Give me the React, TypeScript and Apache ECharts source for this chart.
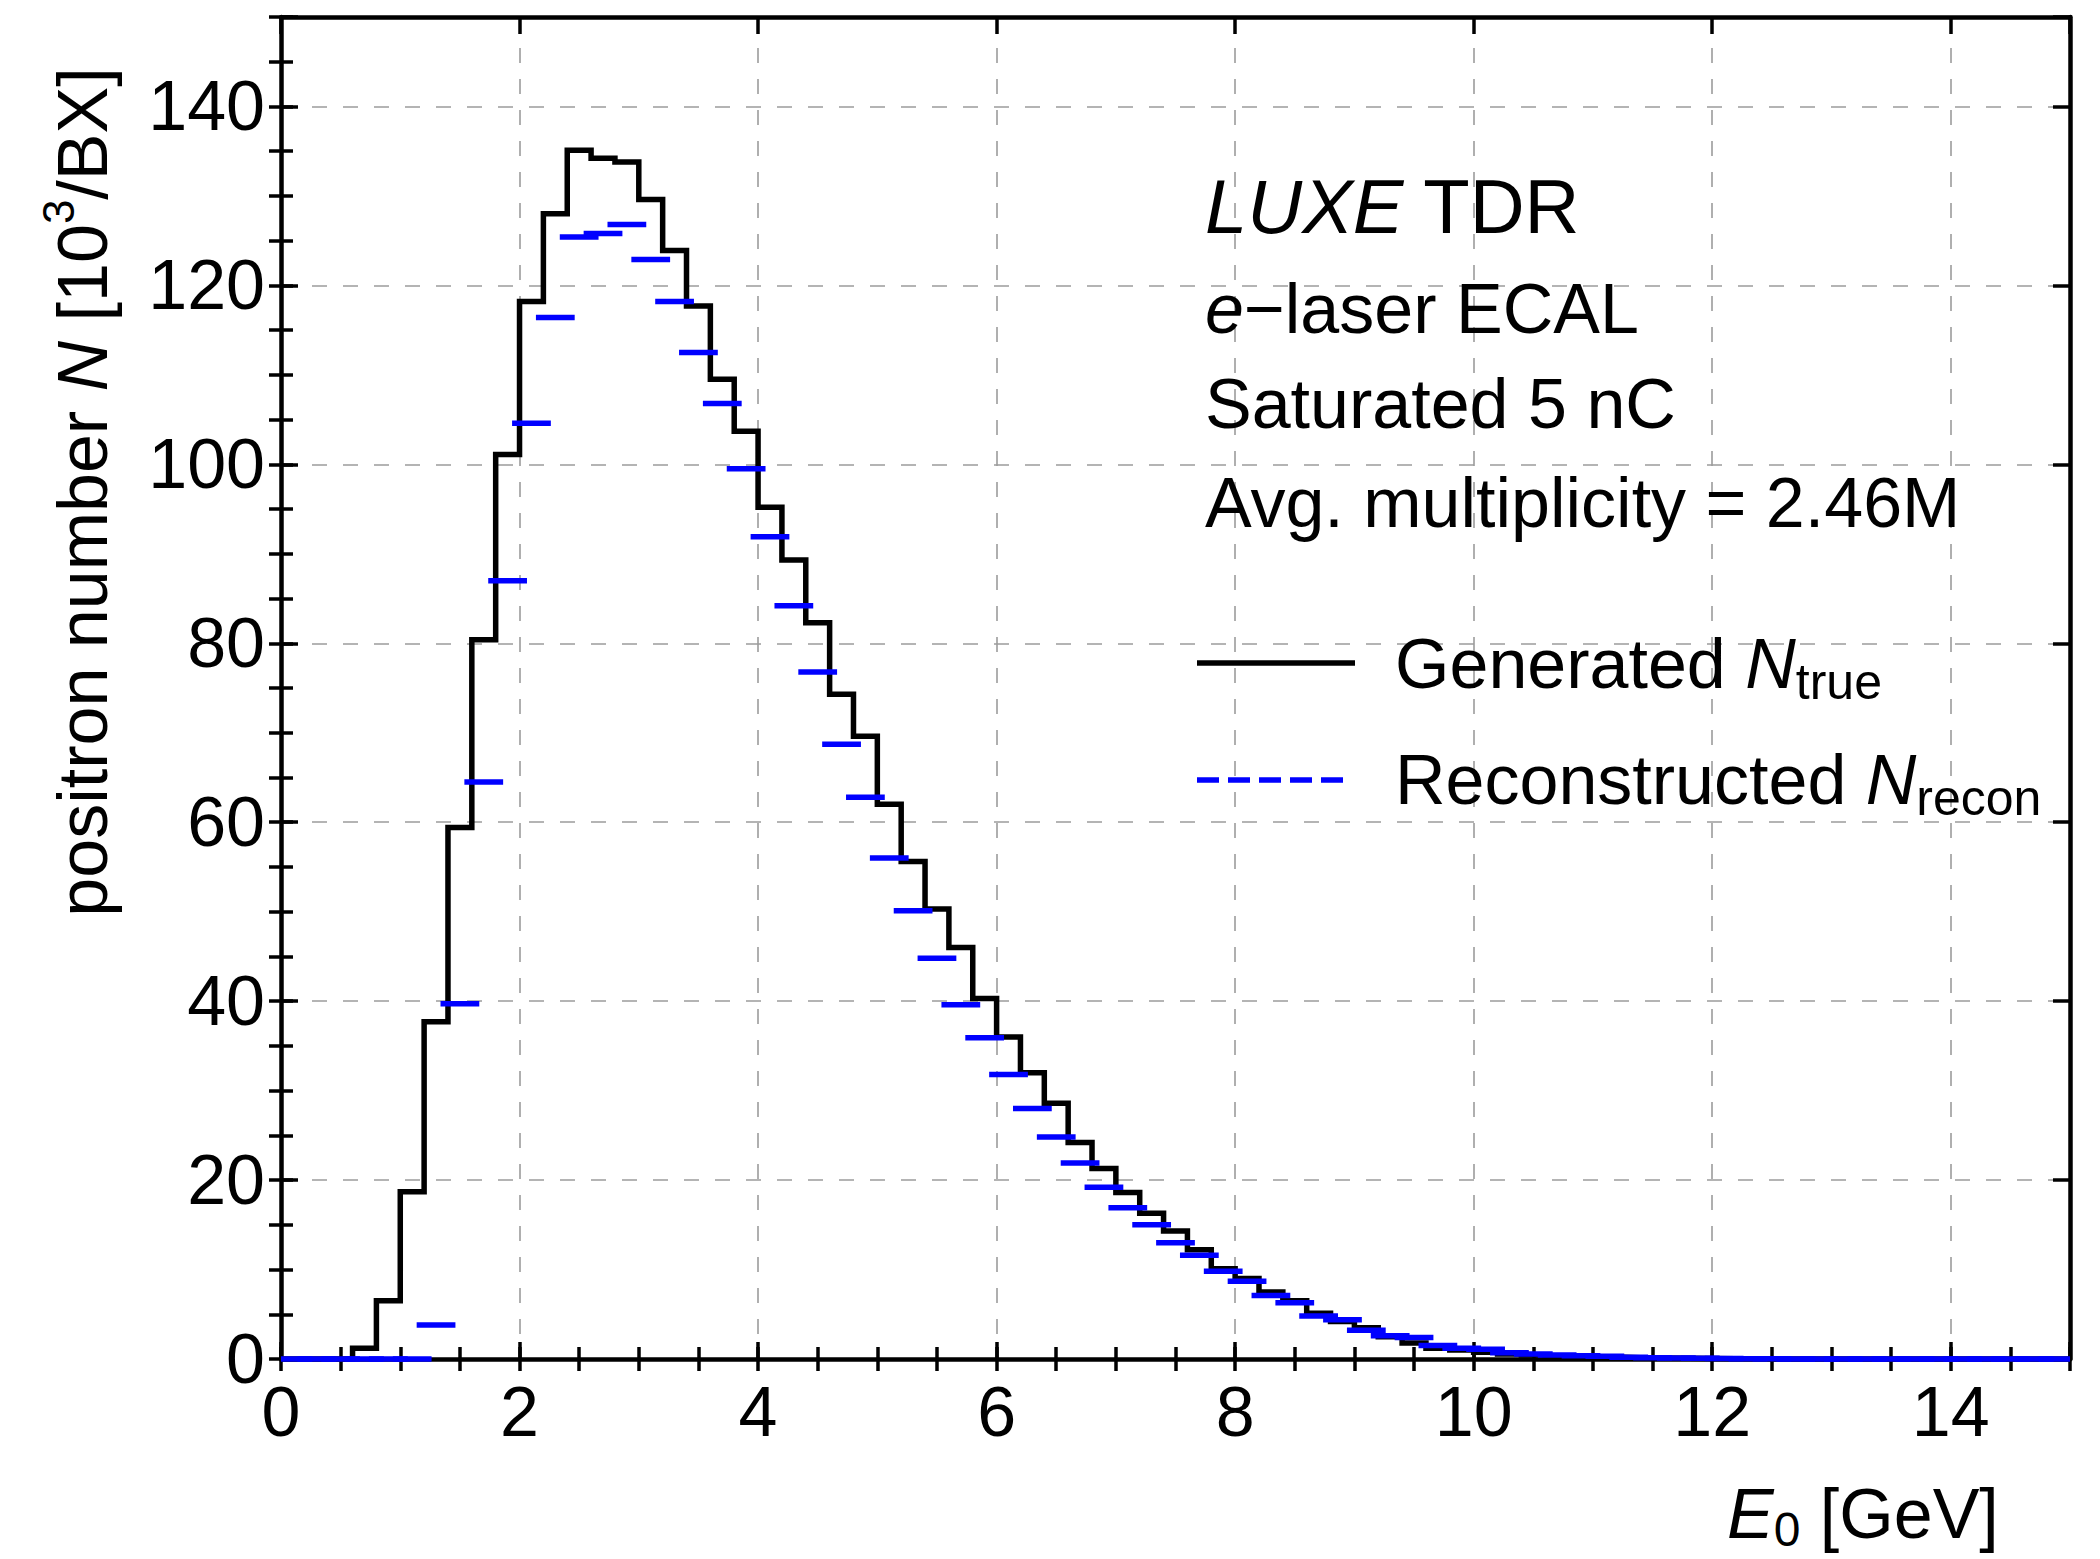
import React, { useEffect, useRef } from "react";
import * as echarts from "echarts";

// ---- data ----
const BIN_WIDTH = 0.2; // GeV
const X_MIN = 0;
const X_MAX = 15;
const Y_MIN = 0;
const Y_MAX = 150;
const X_MAJOR = 2;
const X_MINOR = 0.5;
const Y_MAJOR = 20;
const Y_MINOR = 5;

// Generated N_true per 0.2 GeV bin (10^3 / BX), bins start at 0 GeV
const generatedN = [
  0, 0, 0, 1.2, 6.5, 18.7, 37.7, 59.4, 80.4, 101.1,
  118.2, 128.0, 135.1, 134.2, 133.8, 129.6, 123.9, 117.7, 109.5, 103.7,
  95.2, 89.3, 82.3, 74.3, 69.6, 62.0, 55.6, 50.3, 46.0, 40.3,
  36.0, 32.0, 28.6, 24.2, 21.3, 18.6, 16.3, 14.3, 12.2, 10.1,
  9.0, 7.5, 6.5, 5.1, 4.2, 3.5, 2.5, 1.8, 1.2, 1.0,
  0.75, 0.55, 0.45, 0.37, 0.3, 0.22, 0.15, 0.1, 0.07, 0.05,
  0.03, 0.02, 0.01, 0, 0, 0, 0, 0, 0, 0,
  0, 0, 0, 0, 0,
];

// Reconstructed N_recon per 0.2 GeV bin (10^3 / BX)
const reconN = [
  0, 0, 0, 0, 0, 0, 3.8, 39.7, 64.5, 87.0,
  104.6, 116.4, 125.4, 125.8, 126.8, 122.9, 118.2, 112.5, 106.8, 99.5,
  91.9, 84.2, 76.8, 68.7, 62.8, 56.0, 50.1, 44.8, 39.6, 35.9,
  31.8, 28.0, 24.8, 21.9, 19.2, 16.9, 15.0, 13.0, 11.6, 9.8,
  8.7, 7.1, 6.3, 4.8, 4.4, 3.2, 2.6, 2.4, 1.5, 1.2,
  1.1, 0.7, 0.55, 0.45, 0.37, 0.3, 0.2, 0.15, 0.1, 0.08,
  0.05, 0.03, 0.02, 0.01, 0, 0, 0, 0, 0, 0,
  0, 0, 0, 0, 0,
];

const annotationLines = ["LUXE", " TDR", "e", "\u2212laser ECAL", "Saturated 5 nC", "Avg. multiplicity = 2.46M"];
const legendLabels = ["Generated ", "true", "Reconstructed ", "recon"];

const FONT = "'Liberation Sans', Arial, Helvetica, sans-serif";
const RECON_HALF = 0.1625; // half length of reconstructed dash (GeV)

function buildOption() {
  const stepPts: number[][] = [];
  generatedN.forEach((v, i) => {
    const x0 = +(i * BIN_WIDTH).toFixed(3);
    const x1 = +((i + 1) * BIN_WIDTH).toFixed(3);
    stepPts.push([x0, v]);
    stepPts.push([x1, v]);
  });
  const reconPts = reconN.map((v, i) => [+((i + 0.5) * BIN_WIDTH).toFixed(3), v]);

  const gridColor = "#9c9c9c";
  const tickStyle = { color: "#000", width: 3.5 };
  const frame = { show: true, onZero: false, lineStyle: { color: "#000", width: 4.5 } };

  const xBase = { type: "value", min: X_MIN, max: X_MAX, gridIndex: 0 };
  const yBase = { type: "value", min: Y_MIN, max: Y_MAX, gridIndex: 0 };

  const xAxis = [
    {
      ...xBase,
      position: "bottom",
      interval: X_MAJOR,
      axisLine: frame,
      axisTick: { show: true, inside: true, length: 17, lineStyle: tickStyle },
      axisLabel: {
        show: true,
        fontSize: 70,
        fontFamily: FONT,
        color: "#000",
        margin: 18,
        formatter: (v: number) => (v % X_MAJOR === 0 ? String(v) : ""),
      },
      splitLine: { show: true, lineStyle: { color: gridColor, width: 1.6, type: [15, 16] } },
    },
    {
      ...xBase,
      position: "bottom",
      interval: X_MINOR,
      axisLine: { show: false },
      axisTick: { show: true, inside: true, length: 12, lineStyle: tickStyle },
      axisLabel: { show: false },
      splitLine: { show: false },
    },
    {
      ...xBase,
      position: "top",
      interval: X_MAJOR,
      axisLine: frame,
      axisTick: { show: true, inside: true, length: 17, lineStyle: tickStyle },
      axisLabel: { show: false },
      splitLine: { show: false },
    },
    {
      ...xBase,
      position: "top",
      interval: X_MINOR,
      axisLine: { show: false },
      axisTick: { show: true, inside: true, length: 12, lineStyle: tickStyle },
      axisLabel: { show: false },
      splitLine: { show: false },
    },
  ];

  const yAxis = [
    {
      ...yBase,
      position: "left",
      interval: Y_MAJOR,
      axisLine: frame,
      axisTick: { show: true, inside: true, length: 17, lineStyle: tickStyle },
      axisLabel: {
        show: true,
        fontSize: 70,
        fontFamily: FONT,
        color: "#000",
        margin: 16,
        formatter: (v: number) => (v % Y_MAJOR === 0 ? String(v) : ""),
      },
      splitLine: { show: true, lineStyle: { color: gridColor, width: 1.6, type: [15, 16] } },
    },
    {
      ...yBase,
      position: "left",
      interval: Y_MINOR,
      axisLine: { show: false },
      axisTick: { show: true, inside: true, length: 12, lineStyle: tickStyle },
      axisLabel: { show: false },
      splitLine: { show: false },
    },
    {
      ...yBase,
      position: "right",
      interval: Y_MAJOR,
      axisLine: frame,
      axisTick: { show: true, inside: true, length: 17, lineStyle: tickStyle },
      axisLabel: { show: false },
      splitLine: { show: false },
    },
    {
      ...yBase,
      position: "right",
      interval: Y_MINOR,
      axisLine: { show: false },
      axisTick: { show: true, inside: true, length: 12, lineStyle: tickStyle },
      axisLabel: { show: false },
      splitLine: { show: false },
    },
  ];

  const B = 0.3465; // baseline offset ratio for middle-aligned text
  const annX = 1205;
  const legTextX = 1395;

  const graphic = [
    {
      type: "text",
      x: annX,
      y: 233 - B * 76,
      z: 10,
      style: {
        text: `{i|${annotationLines[0]}}{n|${annotationLines[1]}}`,
        align: "left",
        verticalAlign: "middle",
        fill: "#000",
        rich: {
          i: { fontSize: 76, fontFamily: FONT, fontStyle: "italic", fill: "#000" },
          n: { fontSize: 76, fontFamily: FONT, fill: "#000" },
        },
      },
    },
    {
      type: "text",
      x: annX,
      y: 333 - B * 70,
      z: 10,
      style: {
        text: `{i|${annotationLines[2]}}{n|${annotationLines[3]}}`,
        align: "left",
        verticalAlign: "middle",
        fill: "#000",
        rich: {
          i: { fontSize: 70, fontFamily: FONT, fontStyle: "italic", fill: "#000" },
          n: { fontSize: 70, fontFamily: FONT, fill: "#000" },
        },
      },
    },
    {
      type: "text",
      x: annX,
      y: 428.5 - B * 70,
      z: 10,
      style: {
        text: annotationLines[4],
        fontSize: 70,
        fontFamily: FONT,
        fill: "#000",
        align: "left",
        verticalAlign: "middle",
      },
    },
    {
      type: "text",
      x: annX,
      y: 527 - B * 70,
      z: 10,
      style: {
        text: annotationLines[5],
        fontSize: 70,
        fontFamily: FONT,
        fill: "#000",
        align: "left",
        verticalAlign: "middle",
      },
    },
    // legend
    {
      type: "line",
      z: 10,
      shape: { x1: 1197, y1: 663, x2: 1355, y2: 663 },
      style: { stroke: "#000", lineWidth: 5.5 },
    },
    {
      type: "line",
      z: 10,
      shape: { x1: 1197, y1: 780, x2: 1348, y2: 780 },
      style: { stroke: "#0000ff", lineWidth: 5.5, lineDash: [22, 9] },
    },
    {
      type: "text",
      x: legTextX,
      y: 688 - B * 70,
      z: 10,
      style: {
        text: `{n|${legendLabels[0]}}{i|N}{sub|${legendLabels[1]}}`,
        align: "left",
        verticalAlign: "middle",
        fill: "#000",
        rich: {
          n: { fontSize: 70, fontFamily: FONT, lineHeight: 86, fill: "#000" },
          i: { fontSize: 70, fontFamily: FONT, fontStyle: "italic", lineHeight: 86, fill: "#000" },
          sub: { fontSize: 50, fontFamily: FONT, lineHeight: 50, verticalAlign: "bottom", fill: "#000" },
        },
      },
    },
    {
      type: "text",
      x: legTextX,
      y: 804 - B * 70,
      z: 10,
      style: {
        text: `{n|${legendLabels[2]}}{i|N}{sub|${legendLabels[3]}}`,
        align: "left",
        verticalAlign: "middle",
        fill: "#000",
        rich: {
          n: { fontSize: 70, fontFamily: FONT, lineHeight: 86, fill: "#000" },
          i: { fontSize: 70, fontFamily: FONT, fontStyle: "italic", lineHeight: 86, fill: "#000" },
          sub: { fontSize: 50, fontFamily: FONT, lineHeight: 50, verticalAlign: "bottom", fill: "#000" },
        },
      },
    },
    // x axis title
    {
      type: "text",
      x: 1727,
      y: 1538 - B * 70,
      z: 10,
      style: {
        text: "{i|E}{sub|0}{n| [GeV]}",
        align: "left",
        verticalAlign: "middle",
        fill: "#000",
        rich: {
          n: { fontSize: 70, fontFamily: FONT, lineHeight: 80, fill: "#000" },
          i: { fontSize: 70, fontFamily: FONT, fontStyle: "italic", lineHeight: 80, fill: "#000" },
          sub: { fontSize: 48, fontFamily: FONT, lineHeight: 44, verticalAlign: "bottom", fill: "#000" },
        },
      },
    },
    // y axis title (rotated)
    {
      type: "text",
      x: 107 - B * 70,
      y: 492,
      rotation: Math.PI / 2,
      z: 10,
      style: {
        text: "{n|positron number }{i|N}{n| [10}{sup|3}{n|/BX]}",
        align: "center",
        verticalAlign: "middle",
        fill: "#000",
        rich: {
          n: { fontSize: 70, fontFamily: FONT, lineHeight: 92, fill: "#000" },
          i: { fontSize: 70, fontFamily: FONT, fontStyle: "italic", lineHeight: 92, fill: "#000" },
          sup: { fontSize: 44, fontFamily: FONT, lineHeight: 44, verticalAlign: "top", fill: "#000" },
        },
      },
    },
  ];

  return {
    animation: false,
    backgroundColor: "#fff",
    grid: { left: 281, top: 17, right: 30, bottom: 200, containLabel: false },
    xAxis,
    yAxis,
    graphic,
    series: [
      {
        name: "Generated",
        type: "line",
        xAxisIndex: 0,
        yAxisIndex: 0,
        data: stepPts,
        symbol: "none",
        silent: true,
        z: 3,
        lineStyle: { color: "#000", width: 5.5, join: "miter", cap: "butt" },
      },
      {
        name: "Reconstructed",
        type: "custom",
        xAxisIndex: 0,
        yAxisIndex: 0,
        data: reconPts,
        silent: true,
        z: 4,
        renderItem: (_params: any, api: any) => {
          const c = api.value(0);
          const v = api.value(1);
          const a = api.coord([Math.max(X_MIN, c - RECON_HALF), v]);
          const b = api.coord([Math.min(X_MAX, c + RECON_HALF), v]);
          return {
            type: "line",
            shape: { x1: a[0], y1: a[1], x2: b[0], y2: b[1] },
            style: { stroke: "#0000ff", lineWidth: 5.5 },
          };
        },
      },
    ],
  };
}

export default function App() {
  const ref = useRef<HTMLDivElement | null>(null);
  useEffect(() => {
    if (!ref.current) return;
    const chart = echarts.init(ref.current, null, { renderer: "svg" });
    chart.setOption(buildOption() as any);
    return () => chart.dispose();
  }, []);
  return (
    <div
      ref={ref}
      style={{ position: "absolute", left: 0, top: 0, width: 2100, height: 1559, background: "#fff" }}
    />
  );
}
